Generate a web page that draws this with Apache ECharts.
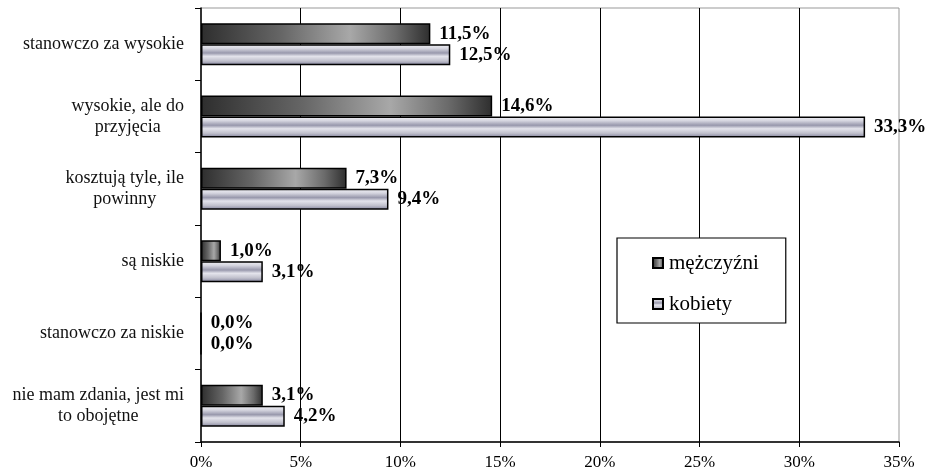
<!DOCTYPE html>
<html>
<head>
<meta charset="utf-8">
<script src="https://cdn.jsdelivr.net/npm/echarts@6/dist/echarts.min.js"></script>
<style>
  html, body { margin: 0; padding: 0; background: #fff; }
  #chart { width: 930px; height: 473px; }
</style>
</head>
<body>
<div id="chart"></div>
<script>
// Answers, top to bottom
const categories = [
  'stanowczo za wysokie',
  'wysokie, ale do\nprzyjęcia',
  'kosztują tyle, ile\npowinny',
  'są niskie',
  'stanowczo za niskie',
  'nie mam zdania, jest mi\nto obojętne'
];
const seriesNames = ['mężczyźni', 'kobiety'];
const men = [11.5, 14.6, 7.3, 1.0, 0.0, 3.1];
const women = [12.5, 33.3, 9.4, 3.1, 0.0, 4.2];
const xTicks = [0, 5, 10, 15, 20, 25, 30, 35];

const FONT = '"Liberation Serif", "Times New Roman", serif';
const CAT_SIZE = 18;

const darkFill = {
  type: 'linear', x: 0, y: 0, x2: 1, y2: 0,
  colorStops: [
    { offset: 0, color: '#2e2e2e' },
    { offset: 0.35, color: '#666' },
    { offset: 0.65, color: '#a8a8a8' },
    { offset: 0.85, color: '#6a6a6a' },
    { offset: 1, color: '#2e2e2e' }
  ]
};
const lightFill = {
  type: 'linear', x: 0, y: 0, x2: 0, y2: 1,
  colorStops: [
    { offset: 0, color: '#f2f2f6' },
    { offset: 0.2, color: '#d6d6e0' },
    { offset: 0.42, color: '#9898ac' },
    { offset: 0.58, color: '#e4e4ec' },
    { offset: 0.8, color: '#c0c0cc' },
    { offset: 1, color: '#80809a' }
  ]
};

const fmtPct = v => v.toFixed(1).replace('.', ',') + '%';

// Multi-line category names: each line is padded so the lines sit centred
// inside a block whose right edge is tied to the axis.
const measureCtx = document.createElement('canvas').getContext('2d');
measureCtx.font = CAT_SIZE + 'px ' + FONT;
const catRich = {};
const catText = categories.map((name, i) => {
  const lines = name.split('\n');
  const widths = lines.map(s => measureCtx.measureText(s).width);
  const maxW = Math.max.apply(null, widths);
  return lines.map((s, j) => {
    const pad = (maxW - widths[j]) / 2;
    const key = 'c' + i + '_' + j;
    catRich[key] = {
      fontFamily: FONT, fontSize: CAT_SIZE, lineHeight: 21, color: '#111',
      padding: [0, pad, 0, pad]
    };
    return '{' + key + '|' + s + '}';
  }).join('\n');
});

const valueLabel = {
  show: true,
  position: 'right',
  distance: 9,
  color: '#000',
  fontFamily: FONT,
  fontWeight: 'bold',
  fontSize: 19,
  formatter: p => fmtPct(p.value)
};

const chart = echarts.init(document.getElementById('chart'), null, { renderer: 'canvas' });
chart.setOption({
  backgroundColor: '#fff',
  animation: false,
  grid: {
    left: 201, right: 31, top: 8, bottom: 31,
    show: true, borderColor: '#999', borderWidth: 1, backgroundColor: 'transparent'
  },
  legend: {
    orient: 'vertical',
    left: 617, top: 238,
    backgroundColor: '#fff',
    borderColor: '#000', borderWidth: 1.2,
    padding: [14, 27, 8, 35],
    itemGap: 19,
    itemWidth: 10, itemHeight: 10,
    icon: 'rect',
    textStyle: { fontFamily: FONT, fontSize: 21, color: '#000', lineHeight: 22, padding: [0, 0, 0, 1] },
    data: seriesNames
  },
  xAxis: {
    type: 'value',
    min: xTicks[0], max: xTicks[xTicks.length - 1], interval: 5,
    axisLine: { show: true, lineStyle: { color: '#000', width: 1.5 } },
    axisTick: { show: true, length: 5, lineStyle: { color: '#000' } },
    axisLabel: { margin: 12, color: '#000', fontFamily: FONT, fontSize: 17, formatter: v => v + '%' },
    splitLine: { show: true, showMinLine: false, showMaxLine: false, lineStyle: { color: '#000', width: 1 } }
  },
  yAxis: {
    type: 'category',
    inverse: true,
    data: categories,
    axisLine: { show: true, lineStyle: { color: '#000', width: 1.5 } },
    axisTick: { show: true, length: 6, lineStyle: { color: '#000' } },
    axisLabel: {
      margin: 17,
      align: 'right',
      color: '#111',
      fontFamily: FONT,
      fontSize: CAT_SIZE,
      lineHeight: 21,
      formatter: (v, i) => catText[i],
      rich: catRich
    }
  },
  series: [
    {
      name: seriesNames[0], type: 'bar', data: men,
      barCategoryGap: '42%', barGap: '0%',
      itemStyle: { color: darkFill, borderColor: '#000', borderWidth: 1.5 },
      label: valueLabel
    },
    {
      name: seriesNames[1], type: 'bar', data: women,
      barCategoryGap: '42%', barGap: '0%',
      itemStyle: { color: lightFill, borderColor: '#000', borderWidth: 1.5 },
      label: valueLabel
    }
  ]
});
</script>
</body>
</html>
